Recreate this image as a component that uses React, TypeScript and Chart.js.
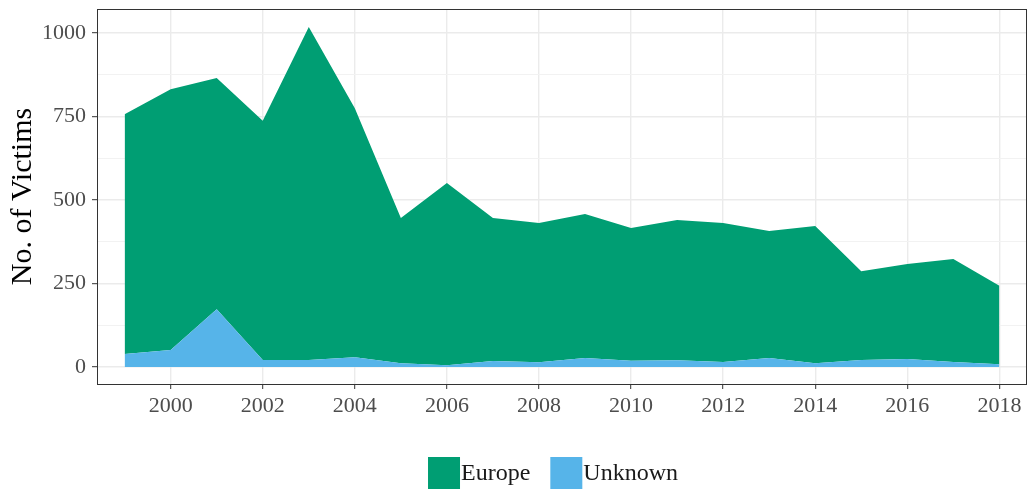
import React, { useEffect, useRef } from "react";
import { Chart, registerables } from "chart.js";

Chart.register(...registerables);

const years = [1999, 2000, 2001, 2002, 2003, 2004, 2005, 2006, 2007, 2008, 2009, 2010, 2011, 2012, 2013, 2014, 2015, 2016, 2017, 2018];
const europe = [718, 781, 692, 716, 997, 746, 435, 546, 428, 417, 431, 397, 420, 416, 380, 411, 266, 284, 308, 235];
const unknown = [39, 51, 173, 21, 21, 29, 11, 5, 18, 14, 27, 19, 20, 15, 27, 11, 21, 24, 15, 8];
const xTicks = [2000, 2002, 2004, 2006, 2008, 2010, 2012, 2014, 2016, 2018];
const yTicks = [0, 125, 250, 375, 500, 625, 750, 875, 1000];
const yMajor = [0, 250, 500, 750, 1000];
const legendLabels = ["Europe", "Unknown"];
const legendColors = ["#009E73", "#56B4E9"];

const FONT = "'Liberation Serif', 'DejaVu Serif', serif";

export default function App() {
  const ref = useRef<HTMLCanvasElement>(null);

  useEffect(() => {
    document.body.style.margin = "0";
    const canvas = ref.current;
    if (!canvas) return;

    const panelBorder = {
      id: "panelBorder",
      afterDraw(chart: any) {
        const { ctx, chartArea: a } = chart;
        ctx.save();
        ctx.strokeStyle = "#333333";
        ctx.lineWidth = 1;
        ctx.strokeRect(Math.round(a.left) + 0.5, Math.round(a.top) + 0.5, Math.round(a.right - a.left) - 1, Math.round(a.bottom - a.top));
        ctx.restore();
      },
    };

    const customLegend = {
      id: "customLegend",
      afterDraw(chart: any) {
        const { ctx, chartArea: a } = chart;
        ctx.save();
        ctx.font = `24px ${FONT}`;
        const box = 32;
        const gapText = 1;
        const gapItem = 20;
        const widths = legendLabels.map((l) => box + gapText + ctx.measureText(l).width);
        const total = widths.reduce((s, w) => s + w, 0) + gapItem * (legendLabels.length - 1);
        const cx = (a.left + a.right) / 2 - 9;
        let x = cx - total / 2;
        const top = 457;
        legendLabels.forEach((l, i) => {
          ctx.fillStyle = legendColors[i];
          ctx.fillRect(x, top, box, box);
          ctx.fillStyle = "#1A1A1A";
          ctx.textBaseline = "middle";
          ctx.textAlign = "left";
          ctx.fillText(l, x + box + gapText, top + box / 2 + 1);
          x += widths[i] + gapItem;
        });
        ctx.restore();
      },
    };

    const chart = new Chart(canvas, {
      type: "line",
      data: {
        datasets: [
          {
            label: "Unknown",
            data: years.map((yr, i) => ({ x: yr, y: unknown[i] })),
            backgroundColor: "#56B4E9",
            borderWidth: 0,
            pointRadius: 0,
            fill: "origin",
            tension: 0,
          },
          {
            label: "Europe",
            data: years.map((yr, i) => ({ x: yr, y: europe[i] })),
            backgroundColor: "#009E73",
            borderWidth: 0,
            pointRadius: 0,
            fill: "-1",
            tension: 0,
          },
        ],
      },
      options: {
        responsive: false,
        animation: false,
        layout: { padding: { top: 9, right: 1, left: 0, bottom: 66 } },
        plugins: {
          legend: { display: false },
          tooltip: { enabled: false },
        },
        scales: {
          x: {
            type: "linear",
            min: 1998.4,
            max: 2018.6,
            afterBuildTicks: (s: any) => {
              s.ticks = xTicks.map((v) => ({ value: v }));
            },
            afterFit: (s: any) => {
              s.height = 40;
              s.paddingLeft = 0;
              s.paddingRight = 0;
            },
            ticks: {
              color: "#4D4D4D",
              font: { family: FONT, size: 22 },
              padding: 4,
              maxRotation: 0,
              callback: (v: any) => String(v),
            },
            grid: {
              color: "#EBEBEB",
              lineWidth: 1.4,
              tickColor: "#333333",
              tickLength: 5,
              tickWidth: 1,
            },
            border: { display: false },
          },
          y: {
            type: "linear",
            stacked: true,
            min: -51,
            max: 1072,
            afterBuildTicks: (s: any) => {
              s.ticks = yTicks.map((v) => ({ value: v }));
            },
            afterFit: (s: any) => {
              s.width = 97;
              s.paddingTop = 0;
              s.paddingBottom = 0;
            },
            ticks: {
              color: "#4D4D4D",
              font: { family: FONT, size: 22 },
              padding: 6,
              callback: (v: any) => (yMajor.includes(v) ? String(v) : ""),
            },
            grid: {
              color: (c: any) => (c.tick && yMajor.includes(c.tick.value) ? "#EBEBEB" : "#F2F2F2"),
              lineWidth: (c: any) => (c.tick && yMajor.includes(c.tick.value) ? 1.4 : 1),
              tickColor: (c: any) => (c.tick && yMajor.includes(c.tick.value) ? "#333333" : "rgba(0,0,0,0)"),
              tickLength: 5,
              tickWidth: 1,
            },
            border: { display: false },
            title: {
              display: true,
              text: "No. of Victims",
              color: "#000000",
              font: { family: FONT, size: 30 },
              padding: { top: 5, bottom: 0 },
            },
          },
        },
      },
      plugins: [panelBorder, customLegend],
    });

    return () => chart.destroy();
  }, []);

  return (
    <div style={{ width: 1028, height: 490 }}>
      <canvas ref={ref} width={1028} height={490} />
    </div>
  );
}
